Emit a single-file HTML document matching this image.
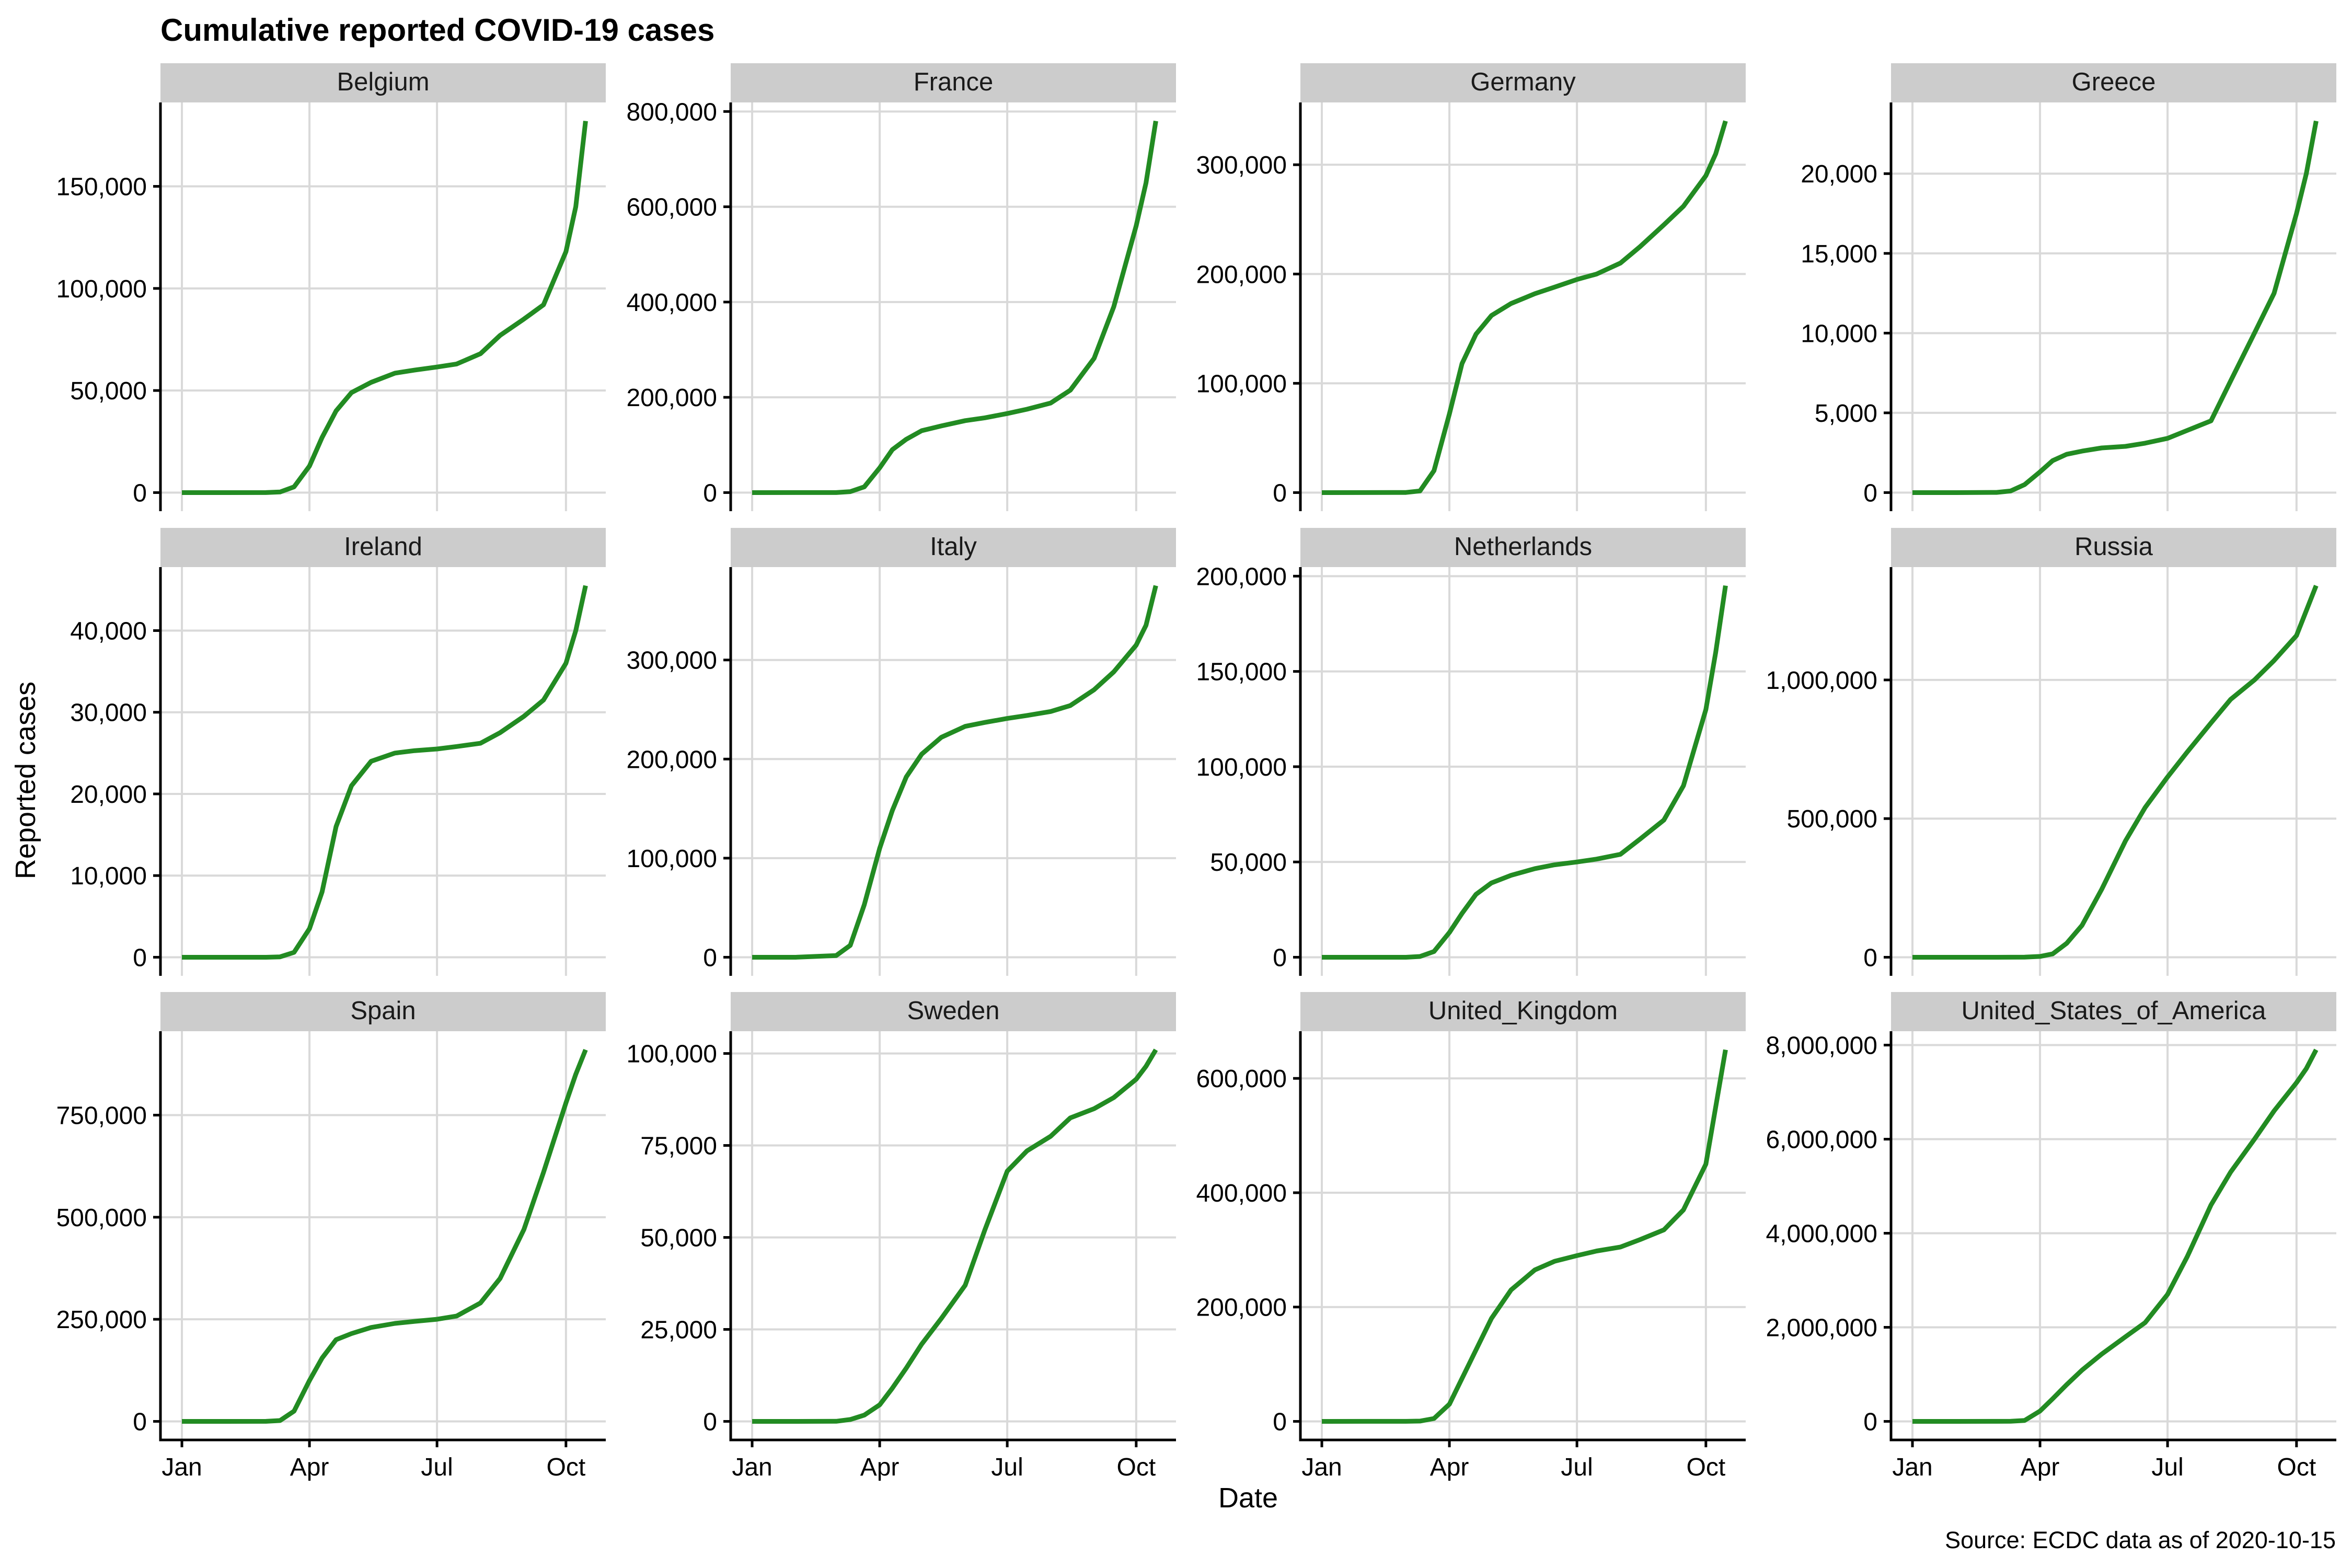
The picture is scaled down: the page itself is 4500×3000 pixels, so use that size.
<!DOCTYPE html>
<html><head><meta charset="utf-8"><style>
html,body{margin:0;padding:0;background:#fff;}
svg{display:block;font-family:"Liberation Sans",Arial,sans-serif;}
</style></head><body>
<svg id="chart" width="4500" height="3000" viewBox="0 0 4500 3000" xmlns="http://www.w3.org/2000/svg">
<rect width="4500" height="3000" fill="#fff"/>
<text x="307" y="78" font-size="60" font-weight="bold">Cumulative reported COVID-19 cases</text>
<text x="2388" y="2884" font-size="54" text-anchor="middle">Date</text>
<text transform="translate(67,1493) rotate(-90)" font-size="54" text-anchor="middle">Reported cases</text>
<text x="4469" y="2962" font-size="45" text-anchor="end">Source: ECDC data as of 2020-10-15</text>
<g id="panels"></g>
</svg>
<script>
const countries = ["Belgium","France","Germany","Greece","Ireland","Italy","Netherlands","Russia","Spain","Sweden","United_Kingdom","United_States_of_America"];
const days = [0,31,60,70,80,91,100,110,121,135,152,166,182,196,213,227,244,258,274,281,288];
const belgium = [0,0,2,300,2800,13000,27000,40000,49000,54000,58500,60000,61500,63000,68000,77000,85000,92000,118000,140000,182000];
const france = [0,6,100,2000,12000,52000,90000,112000,130000,140000,151000,157000,166000,175000,188000,215000,282000,390000,560000,650000,780000];
const germany = [0,10,120,1500,20000,72000,118000,145000,162000,173000,182000,188000,195000,200000,210000,225000,245000,262000,290000,310000,340000];
const greece = [0,0,10,100,500,1300,2000,2400,2600,2800,2900,3100,3400,3900,4500,7000,10000,12500,17500,20000,23300];
const ireland = [0,0,0,50,600,3500,8000,16000,21000,24000,25000,25300,25500,25800,26200,27500,29500,31500,36000,40000,45500];
const italy = [0,2,1700,12000,53000,110000,148000,182000,205000,222000,233000,237000,241000,244000,248000,254000,270000,288000,315000,335000,375000];
const netherlands = [0,0,0,400,3000,13000,23000,33000,39000,43000,46500,48500,50000,51500,54000,62000,72000,90000,130000,160000,195000];
const russia = [0,0,0,20,250,3000,12000,50000,115000,245000,420000,540000,650000,740000,845000,930000,1000000,1070000,1160000,1250000,1340000];
const spain = [0,0,100,2000,25000,100000,155000,200000,215000,230000,240000,245000,250000,258000,290000,350000,470000,610000,780000,850000,910000];
const sweden = [0,0,15,500,1700,4500,9000,14500,21000,28000,37000,52000,68000,73500,77500,82500,85000,88000,93000,96500,101000];
const uk = [0,10,50,500,5000,30000,75000,125000,180000,230000,265000,280000,290000,298000,305000,318000,335000,370000,450000,550000,650000];
const usa = [0,8,80,1500,20000,220000,480000,780000,1090000,1430000,1800000,2100000,2700000,3500000,4600000,5300000,6000000,6600000,7200000,7500000,7900000];
const seriesList = [belgium,france,germany,greece,ireland,italy,netherlands,russia,spain,sweden,uk,usa];
const yTickSteps = [50000,200000,100000,5000,10000,100000,50000,500000,250000,25000,200000,2000000];
const xTickDays = [0,91,182,274];
const xTickLabels = ["Jan","Apr","Jul","Oct"];

const NS = "http://www.w3.org/2000/svg";
const root = document.getElementById("panels");
const colX = [307,1398,2488,3618];
const rowStrip = [121,1010,1898];
const PW = 852, STRIP = 75, PH = 782;
const dMin = -15.3, dMax = 302.4;
function mk(tag, attrs, parent){ const e=document.createElementNS(NS,tag); for(const k in attrs) e.setAttribute(k,attrs[k]); parent.appendChild(e); return e; }
function fmt(v){ return v.toLocaleString("en-US"); }

countries.forEach((name,i)=>{
  const r = Math.floor(i/4), c = i%4;
  const x0 = colX[c], sy = rowStrip[r], y0 = sy+STRIP, y1 = y0+PH;
  const vals = seriesList[i];
  const vmax = Math.max(...vals), vmin = 0;
  const lo = vmin-0.05*(vmax-vmin), hi = vmax+0.05*(vmax-vmin);
  const xs = d => x0 + (d-dMin)/(dMax-dMin)*PW;
  const ys = v => y1 - (v-lo)/(hi-lo)*PH;
  const g = mk("g",{},root);
  
  
  const strip = mk("rect",{x:x0,y:sy,width:PW,height:STRIP,fill:"#cccccc"},g);
  
  
  const st = mk("text",{x:x0+PW/2,y:sy+52,"font-size":49,"text-anchor":"middle",fill:"#1a1a1a"},g);
  st.textContent = name;
  
  
  xTickDays.forEach((d,k)=>{
    const gl = mk("line",{x1:xs(d),x2:xs(d),y1:y0,y2:y1,stroke:"#d9d9d9","stroke-width":4},g);
    
    
    if(r===2){
      const tk = mk("line",{x1:xs(d),x2:xs(d),y1:y1,y2:y1+14,stroke:"#000","stroke-width":5},g);
      
      
      const tl = mk("text",{x:xs(d),y:y1+68,"font-size":48,"text-anchor":"middle"},g);
      tl.textContent = xTickLabels[k];
      
      
    }
  });
  const step = yTickSteps[i];
  for(let v=0; v<=hi; v+=step){
    const y = ys(v);
    const gl = mk("line",{x1:x0,x2:x0+PW,y1:y,y2:y,stroke:"#d9d9d9","stroke-width":4},g);
    
    
    const tk = mk("line",{x1:x0-14,x2:x0,y1:y,y2:y,stroke:"#000","stroke-width":5},g);
    
    
    const tl = mk("text",{x:x0-26,y:y+17,"font-size":48,"text-anchor":"end"},g);
    tl.textContent = fmt(v);
    
    
  }
  const ax = mk("line",{x1:x0,x2:x0,y1:y0,y2:y1,stroke:"#000","stroke-width":5},g);
  
  
  if(r===2){
    const bx = mk("line",{x1:x0-2.5,x2:x0+PW,y1:y1,y2:y1,stroke:"#000","stroke-width":5},g);
    
    
  }
  const pts = vals.map((v,k)=>xs(days[k]).toFixed(1)+","+ys(v).toFixed(1)).join(" ");
  const line = mk("polyline",{points:pts,fill:"none",stroke:"#228b22","stroke-width":9,"stroke-linejoin":"round","stroke-linecap":"butt"},g);
  
  
});
</script>
</body></html>
